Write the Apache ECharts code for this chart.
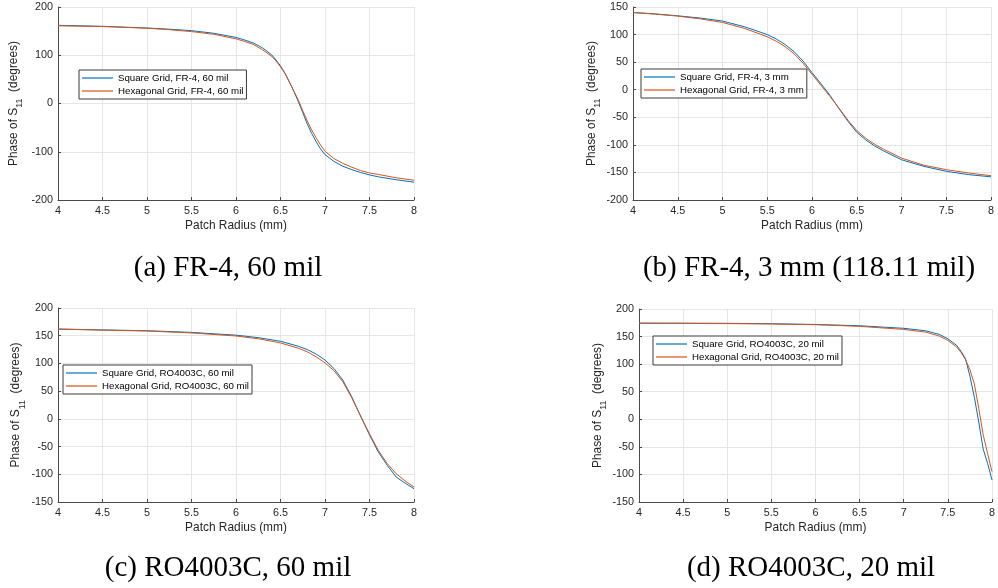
<!DOCTYPE html>
<html>
<head>
<meta charset="utf-8">
<script src="https://cdn.jsdelivr.net/npm/echarts@6/dist/echarts.min.js"></script>
<style>html,body{margin:0;padding:0;background:#fff;}#c{width:998px;height:588px;}</style>
</head>
<body>
<div id="c"></div>
<script>
// (a) FR-4, 60 mil
const radiusA = [4, 4.5, 5, 5.25, 5.5, 5.75, 6, 6.1, 6.2, 6.3, 6.4, 6.45, 6.5, 6.55, 6.6, 6.65, 6.7, 6.75, 6.8, 6.85, 6.9, 6.95, 7, 7.1, 7.2, 7.3, 7.4, 7.5, 7.6, 7.8, 8];
const squareA = [162, 160, 156.5, 154, 151, 145.5, 137, 131.5, 125, 115, 101, 90, 78, 63, 45, 25, 4, -19, -42, -62, -79, -94, -106, -120, -130, -137, -143, -148, -152, -158, -163];
const hexA    = [161, 159.5, 156, 153, 149, 143.5, 134, 128.5, 122, 111, 98, 88, 76, 62, 44, 26, 7, -15, -36, -55, -71, -86, -99, -114, -124, -132, -139, -144, -147, -154, -159];
// (b) FR-4, 3 mm
const radiusB = [4, 4.25, 4.5, 4.75, 5, 5.25, 5.5, 5.6, 5.7, 5.8, 5.9, 6, 6.1, 6.2, 6.3, 6.4, 6.5, 6.6, 6.7, 6.8, 7, 7.25, 7.5, 7.75, 8];
const squareB = [140, 137.5, 134, 130, 124.5, 114, 100, 92, 82, 69, 52, 31, 11, -10, -34, -57, -77, -91, -102, -111, -127, -139, -148, -154, -158];
const hexB    = [140, 137, 133.5, 128.5, 122, 111, 96, 88, 78, 65, 48, 28, 8, -12, -33, -55, -74, -88, -99, -108, -124, -137, -145, -151, -156];
// (c) RO4003C, 60 mil
const radiusC = [4, 4.5, 5, 5.5, 6, 6.25, 6.5, 6.7, 6.8, 6.9, 7, 7.1, 7.2, 7.3, 7.4, 7.5, 7.6, 7.7, 7.8, 7.9, 8];
const squareC = [162, 160.5, 159, 156, 151, 146.5, 140, 131, 125, 117, 106, 91, 70, 40, 5, -29, -60, -84, -105, -116, -126];
const hexC    = [162, 160, 158.5, 155, 149.5, 144.5, 137, 127.5, 121, 112, 101, 87, 67, 38, 5, -27, -57, -81, -99, -112, -123];
// (d) RO4003C, 20 mil
const radiusD = [4, 4.5, 5, 5.5, 6, 6.5, 7, 7.25, 7.4, 7.5, 7.6, 7.65, 7.7, 7.75, 7.8, 7.85, 7.9, 7.95, 8];
const squareD = [174.5, 174.3, 174, 173.3, 172, 169.6, 165, 160.5, 154, 146, 134, 123, 110, 78, 40, -5, -54, -80, -110];
const hexD    = [174, 173.8, 173.5, 172.8, 171.5, 168.5, 163, 158, 151, 143, 131, 121, 108, 90, 64, 20, -28, -62, -95];

const legendA = ['Square Grid, FR-4, 60 mil', 'Hexagonal Grid, FR-4, 60 mil'];
const legendB = ['Square Grid, FR-4, 3 mm', 'Hexagonal Grid, FR-4, 3 mm'];
const legendC = ['Square Grid, RO4003C, 60 mil', 'Hexagonal Grid, RO4003C, 60 mil'];
const legendD = ['Square Grid, RO4003C, 20 mil', 'Hexagonal Grid, RO4003C, 20 mil'];
const captions = ['(a) FR-4, 60 mil', '(b) FR-4, 3 mm (118.11 mil)', '(c) RO4003C, 60 mil', '(d) RO4003C, 20 mil'];
const yRanges = [[-200, 200, 100], [-200, 150, 50], [-150, 200, 50], [-150, 200, 50]];

const BLUE = '#0072BD', ORANGE = '#D95319';
const SANS = 'Liberation Sans, Arial, sans-serif';
const TXT = '#262626', AXC = '#4a4a4a', GRIDC = '#e6e6e6';

const grids = [
  {left: 58, top: 7, width: 356, height: 193},
  {left: 633, top: 7, width: 358, height: 193},
  {left: 58, top: 308, width: 356, height: 194},
  {left: 639, top: 309, width: 358, height: 193}
];
const yNameGaps = [33.5, 30.5, 31, 30];
const legendPos = [[79, 70], [641, 69], [63, 365], [653, 336]];
const captionPos = [[228, 254], [809, 254], [228, 554], [811, 554]];

const xAxes = grids.map((g, i) => ({
  type: 'value', gridIndex: i, min: 4, max: 8, interval: 0.5,
  name: 'Patch Radius (mm)', nameLocation: 'middle', nameGap: 20,
  nameTextStyle: {fontFamily: SANS, fontSize: 11.9, color: TXT},
  axisLine: {show: true, onZero: false, lineStyle: {color: AXC, width: 1}},
  axisTick: {show: true, inside: true, length: 3, lineStyle: {color: AXC}},
  axisLabel: {fontFamily: SANS, fontSize: 10.8, color: TXT, margin: 6},
  splitLine: {show: true, lineStyle: {color: GRIDC, width: 1}}
}));
const yAxes = grids.map((g, i) => ({
  type: 'value', gridIndex: i, min: yRanges[i][0], max: yRanges[i][1], interval: yRanges[i][2],
  name: '{n|Phase of S}{s|11}{n|  (degrees)}', nameLocation: 'middle', nameGap: yNameGaps[i],
  nameTextStyle: {
    fontFamily: SANS, fontSize: 11.9, color: TXT,
    rich: {
      n: {fontFamily: SANS, fontSize: 11.9, color: TXT, verticalAlign: 'top', lineHeight: 17},
      s: {fontFamily: SANS, fontSize: 9, color: TXT, verticalAlign: 'bottom', lineHeight: 17}
    }
  },
  axisLine: {show: true, onZero: false, lineStyle: {color: AXC, width: 1}},
  axisTick: {show: true, inside: true, length: 3, lineStyle: {color: AXC}},
  axisLabel: {fontFamily: SANS, fontSize: 10.8, color: TXT, margin: 5},
  splitLine: {show: true, lineStyle: {color: GRIDC, width: 1}}
}));

const sets = [
  [radiusA, squareA, hexA, legendA],
  [radiusB, squareB, hexB, legendB],
  [radiusC, squareC, hexC, legendC],
  [radiusD, squareD, hexD, legendD]
];
const series = [];
sets.forEach((s, i) => {
  const [r, sq, hx, names] = s;
  series.push({
    type: 'line', name: names[0], xAxisIndex: i, yAxisIndex: i,
    data: r.map((x, k) => [x, sq[k]]), showSymbol: false, symbol: 'none',
    smooth: false,
    lineStyle: {color: BLUE, width: 1}, itemStyle: {color: BLUE}, z: 2
  });
  series.push({
    type: 'line', name: names[1], xAxisIndex: i, yAxisIndex: i,
    data: r.map((x, k) => [x, hx[k]]), showSymbol: false, symbol: 'none',
    smooth: false,
    lineStyle: {color: ORANGE, width: 1}, itemStyle: {color: ORANGE}, z: 3
  });
});

const legends = sets.map((s, i) => ({
  data: s[3], orient: 'vertical', left: legendPos[i][0], top: legendPos[i][1],
  icon: 'rect', itemWidth: 31, itemHeight: 1.2, itemGap: 1,
  padding: [2, 3, 2, 3],
  backgroundColor: '#fff', borderColor: '#3a3a3a', borderWidth: 1,
  textStyle: {fontFamily: SANS, fontSize: 9.7, color: '#000', lineHeight: 12},
  selectedMode: false
}));

const titles = captions.map((t, i) => ({
  text: t, left: captionPos[i][0], top: captionPos[i][1], textAlign: 'center', padding: 0,
  textStyle: {fontFamily: 'Liberation Serif, Times New Roman, serif', fontSize: 29, fontWeight: 'normal', color: '#000'}
}));

const chart = echarts.init(document.getElementById('c'), null, {renderer: 'canvas'});
chart.setOption({
  animation: false,
  backgroundColor: '#fff',
  title: titles,
  grid: grids,
  xAxis: xAxes,
  yAxis: yAxes,
  legend: legends,
  series: series
});
</script>
</body>
</html>
